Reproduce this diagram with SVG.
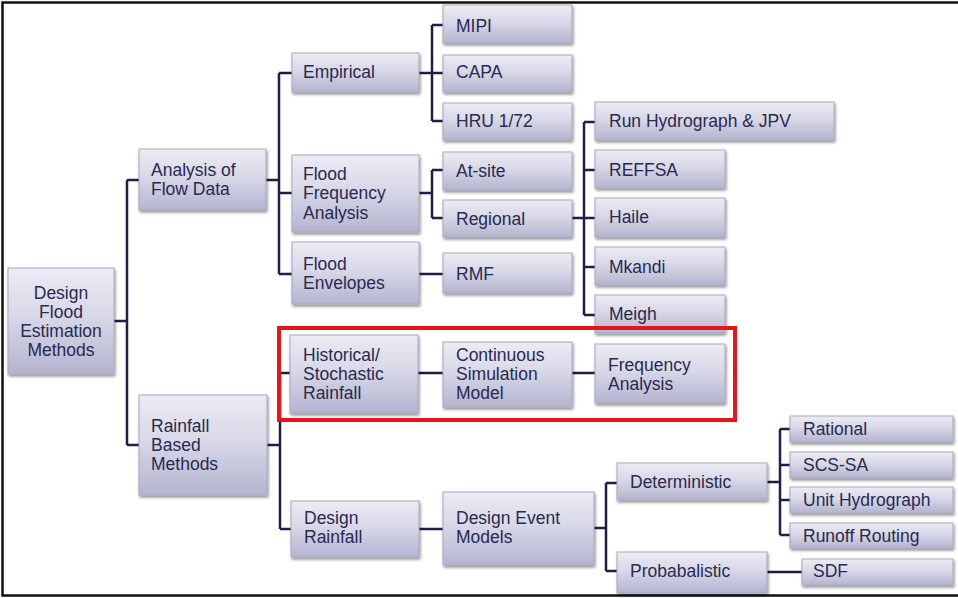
<svg xmlns="http://www.w3.org/2000/svg" width="958" height="598" viewBox="0 0 958 598">
  <defs>
    <linearGradient id="boxFill" x1="0" y1="0" x2="0" y2="1">
      <stop offset="0" stop-color="#ececf4"/>
      <stop offset="0.45" stop-color="#d8d8e8"/>
      <stop offset="1" stop-color="#b4b4d0"/>
    </linearGradient>
    <filter id="shadow" x="-10%" y="-10%" width="125%" height="135%">
      <feGaussianBlur in="SourceAlpha" stdDeviation="1.5"/>
      <feOffset dx="1" dy="2" result="b"/>
      <feComponentTransfer><feFuncA type="linear" slope="0.45"/></feComponentTransfer>
      <feMerge><feMergeNode/><feMergeNode in="SourceGraphic"/></feMerge>
    </filter>
  </defs>
  <style>
    .box { fill: url(#boxFill); stroke: #a8a8bc; stroke-width: 1; filter: url(#shadow); }
    .lbl { font-family: "Liberation Sans", Arial, sans-serif; font-size: 17.5px; fill: #2a2a50; }
    .mid { text-anchor: middle; }
    .wire { fill: none; stroke: #1e1e46; stroke-width: 2.5; }
  </style>

  <rect width="958" height="598" fill="#ffffff"/>
  <!-- frame -->
  <rect x="2.5" y="2.5" width="970" height="593" fill="none" stroke="#111111" stroke-width="2.5"/>

  <!-- connectors -->
  <g id="connectors" class="wire">
    <path d="M114 321H127M127 180V445M127 180H139M127 445H139"/>
    <path d="M266 180H279M279 73V274M279 73H292M279 193H292M279 274H292"/>
    <path d="M419 73H443M432 25V121M432 25H443M432 121H443"/>
    <path d="M419 193H432M432 170V218M432 170H443M432 218H443"/>
    <path d="M419 274H443"/>
    <path d="M572 218H595M584 122V315M584 122H595M584 170H595M584 267H595M584 315H595"/>
    <path d="M267 445H280M280 373V529M280 373H290M280 529H291"/>
    <path d="M418 373H443M572 373H595"/>
    <path d="M419 529H443"/>
    <path d="M594 528H606M606 483V571M606 483H617M606 571H617"/>
    <path d="M767 482H780M780 429V535M780 429H790M780 465H790M780 500H790M780 535H790"/>
    <path d="M767 572H802"/>
  </g>

  <!-- nodes -->
  <g id="root"><rect class="box" x="8" y="268" width="106" height="106"/>
    <text class="lbl mid" x="61" y="299">Design</text>
    <text class="lbl mid" x="61" y="318">Flood</text>
    <text class="lbl mid" x="61" y="337">Estimation</text>
    <text class="lbl mid" x="61" y="356">Methods</text></g>

  <g id="flow-data"><rect class="box" x="139" y="149" width="127" height="61"/>
    <text class="lbl" x="151" y="176">Analysis of</text>
    <text class="lbl" x="151" y="195">Flow Data</text></g>

  <g id="rainfall-based"><rect class="box" x="139" y="395" width="128" height="100"/>
    <text class="lbl" x="151" y="432">Rainfall</text>
    <text class="lbl" x="151" y="451">Based</text>
    <text class="lbl" x="151" y="470">Methods</text></g>

  <g id="empirical"><rect class="box" x="292" y="53" width="127" height="39"/>
    <text class="lbl" x="303" y="78">Empirical</text></g>

  <g id="ffa"><rect class="box" x="292" y="155" width="127" height="77"/>
    <text class="lbl" x="303" y="180">Flood</text>
    <text class="lbl" x="303" y="199">Frequency</text>
    <text class="lbl" x="303" y="219">Analysis</text></g>

  <g id="envelopes"><rect class="box" x="292" y="242" width="127" height="62"/>
    <text class="lbl" x="303" y="270">Flood</text>
    <text class="lbl" x="303" y="289">Envelopes</text></g>

  <g id="mipi"><rect class="box" x="443" y="5" width="129" height="38"/>
    <text class="lbl" x="456" y="32">MIPI</text></g>
  <g id="capa"><rect class="box" x="443" y="55" width="129" height="37"/>
    <text class="lbl" x="456" y="78">CAPA</text></g>
  <g id="hru"><rect class="box" x="443" y="103" width="129" height="37"/>
    <text class="lbl" x="456" y="127">HRU 1/72</text></g>
  <g id="at-site"><rect class="box" x="443" y="152" width="129" height="38"/>
    <text class="lbl" x="456" y="177">At-site</text></g>
  <g id="regional"><rect class="box" x="443" y="200" width="129" height="37"/>
    <text class="lbl" x="456" y="225">Regional</text></g>
  <g id="rmf"><rect class="box" x="443" y="253" width="129" height="40"/>
    <text class="lbl" x="456" y="280">RMF</text></g>

  <g id="run-hydrograph"><rect class="box" x="595" y="102" width="239" height="38"/>
    <text class="lbl" x="609" y="127">Run Hydrograph &amp; JPV</text></g>
  <g id="reffsa"><rect class="box" x="595" y="150" width="130" height="38"/>
    <text class="lbl" x="609" y="176">REFFSA</text></g>
  <g id="haile"><rect class="box" x="595" y="198" width="130" height="39"/>
    <text class="lbl" x="609" y="223">Haile</text></g>
  <g id="mkandi"><rect class="box" x="595" y="247" width="130" height="38"/>
    <text class="lbl" x="609" y="273">Mkandi</text></g>
  <g id="meigh"><rect class="box" x="595" y="295" width="130" height="38"/>
    <text class="lbl" x="609" y="320">Meigh</text></g>

  <g id="historical"><rect class="box" x="290" y="335" width="128" height="78"/>
    <text class="lbl" x="303" y="361">Historical/</text>
    <text class="lbl" x="303" y="380">Stochastic</text>
    <text class="lbl" x="303" y="399">Rainfall</text></g>
  <g id="continuous"><rect class="box" x="443" y="342" width="129" height="65"/>
    <text class="lbl" x="456" y="361">Continuous</text>
    <text class="lbl" x="456" y="380">Simulation</text>
    <text class="lbl" x="456" y="399">Model</text></g>
  <g id="frequency"><rect class="box" x="595" y="344" width="130" height="59"/>
    <text class="lbl" x="608" y="371">Frequency</text>
    <text class="lbl" x="608" y="390">Analysis</text></g>

  <g id="design-rainfall"><rect class="box" x="291" y="501" width="128" height="56"/>
    <text class="lbl" x="304" y="524">Design</text>
    <text class="lbl" x="304" y="543">Rainfall</text></g>
  <g id="design-event"><rect class="box" x="443" y="492" width="151" height="73"/>
    <text class="lbl" x="456" y="524">Design Event</text>
    <text class="lbl" x="456" y="543">Models</text></g>

  <g id="deterministic"><rect class="box" x="617" y="463" width="150" height="37"/>
    <text class="lbl" x="630" y="488">Deterministic</text></g>
  <g id="probabalistic"><rect class="box" x="617" y="552" width="150" height="41"/>
    <text class="lbl" x="630" y="577">Probabalistic</text></g>

  <g id="rational"><rect class="box" x="790" y="416" width="163" height="26"/>
    <text class="lbl" x="803" y="435">Rational</text></g>
  <g id="scs-sa"><rect class="box" x="790" y="452" width="163" height="26"/>
    <text class="lbl" x="803" y="471">SCS-SA</text></g>
  <g id="unit-hydrograph"><rect class="box" x="790" y="487" width="163" height="26"/>
    <text class="lbl" x="803" y="506">Unit Hydrograph</text></g>
  <g id="runoff-routing"><rect class="box" x="790" y="523" width="163" height="25"/>
    <text class="lbl" x="803" y="542">Runoff Routing</text></g>
  <g id="sdf"><rect class="box" x="802" y="559" width="151" height="26"/>
    <text class="lbl" x="813" y="577">SDF</text></g>

  <!-- highlight around the continuous-simulation branch -->
  <rect id="highlight" x="279" y="328" width="456" height="92" fill="none" stroke="#e3161b" stroke-width="4"/>
</svg>
